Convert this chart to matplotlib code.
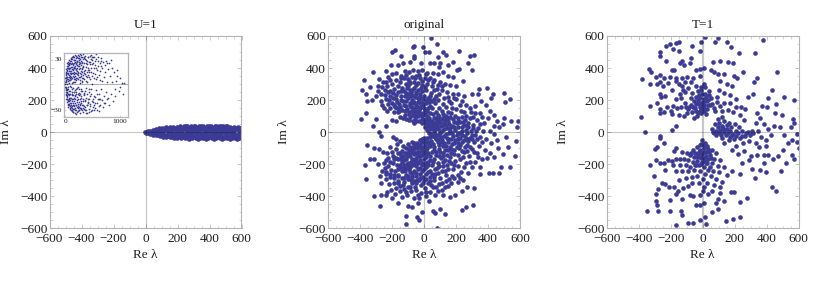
# Eigenvalue scatter plots in the complex plane: U=1, original, T=1
import numpy as np
import matplotlib
matplotlib.use("Agg")
import matplotlib.pyplot as plt

plt.rcParams['font.family'] = ['Liberation Serif', 'DejaVu Serif']

point_color = '#3b3b96'
frame_color = '#b4b4b4'
text_color = '#1c1c1c'

titles = ['U=1', 'original', 'T=1']
major_ticks = [-600, -400, -200, 0, 200, 400, 600]
minor_ticks = [-550, -500, -450, -350, -300, -250, -150, -100, -50, 50, 100, 150, 250, 300, 350, 450, 500, 550]
tick_labels = ['\u2212600', '\u2212400', '\u2212200', '0', '200', '400', '600']

# U=1 main panel, the thin band along the real axis
u1_points = [
    (-5, 0), (5, 3), (5, -3), (15, 6), (15, -7), (28, 10), (30, -11), (30, 0), (45, 15), (47, -16), (50, 4), (52, -5),
    (65, 20), (68, -19), (72, 6), (75, -8), (85, 24), (88, -24), (92, 10), (95, -11), (105, 28), (108, -28), (112, 0),
    (118, 14), (120, -15), (128, 30), (130, -30), (140, 5), (145, 18), (148, -18), (150, 32), (152, -33), (165, -5),
    (170, 20), (172, 35), (175, -34), (178, -20), (190, 5), (195, 34), (198, -36), (205, 18), (208, -18), (218, 36),
    (222, -38), (228, 0), (235, 20), (240, 37), (242, -20), (248, -37), (258, 6), (262, 36), (268, -38), (272, 20),
    (278, -20), (285, 38), (290, -37), (295, 0), (305, 20), (310, 36), (315, -20), (318, -38), (328, 6), (335, 38),
    (340, -37), (345, 20), (350, -20), (358, 37), (362, -38), (368, 0), (378, 20), (382, 36), (386, -20), (392, -38),
    (402, 6), (408, 38), (414, -38), (420, 20), (425, -20), (432, 36), (438, -36), (445, 0), (452, 20), (458, 37),
    (462, -20), (468, -38), (476, 6), (482, 36), (488, -38), (494, 20), (500, -20), (506, 36), (512, -36), (518, 0),
    (525, 20), (530, 35), (535, -20), (540, -38), (548, 6), (554, 35), (560, -36), (566, 20), (572, -20), (578, 34),
    (584, -35), (590, 0), (596, 18), (598, -18), (600, 33), (600, -36),
]
u1_extra = [
    (58, 12), (62, -12), (80, 16), (84, -16), (100, 20), (102, -20), (122, 24), (125, -23), (135, 12), (138, -10), (155, 25),
    (158, -26), (160, 10), (182, 28), (185, -27), (188, 14), (192, -12), (212, 28), (215, -28), (220, 10), (225, -10),
    (245, 29), (250, -29), (252, 12), (255, -9), (275, 30), (280, -30), (282, 10), (288, -12), (300, 29), (308, -28),
    (312, 9), (320, -8), (330, 28), (338, -29), (342, 11), (348, -11), (365, 28), (370, -29), (372, 10), (380, -9),
    (395, 29), (400, -28), (405, 12), (410, -10), (425, 28), (430, -28), (436, 10), (442, -11), (455, 29), (460, -29),
    (465, 10), (472, -9), (485, 27), (490, -28), (495, 9), (502, -10), (515, 28), (520, -28), (528, 10), (532, -9),
    (545, 28), (550, -29), (556, 11), (562, -10), (575, 26), (580, -27), (586, 10), (592, -10), (598, 26), (598, -27),
    (600, 6), (600, -6), (255, 40), (300, 41), (345, 40), (395, 40), (440, 39), (470, 41), (510, 38), (270, -42),
    (330, -41), (380, -40), (430, -42), (475, -41), (530, -42), (570, -41),
]
u1_fill = [
    (70, 15), (76, -15), (96, 17), (110, 22), (114, -22), (134, 24), (142, -26), (162, 29), (168, -29), (200, 26), (203, -26), (232, 28),
    (238, -28), (265, 27), (270, -27), (295, 28), (298, -29), (322, 27), (326, -27), (352, 28), (356, -28), (388, 28), (392, -28),
    (418, 28), (422, -28), (448, 28), (452, -28), (478, 28), (482, -28), (508, 28), (512, -28), (538, 28), (542, -28), (568, 28), (572, -28),
    (210, 2), (265, -3), (320, 2), (385, 3), (430, -2), (490, 1), (540, -3),
]

# inset of the U=1 panel
inset_points = [
    (3, 0), (6, 8), (8, -7), (10, 14), (12, -13), (15, 3), (17, -3), (20, 18), (22, -17), (25, 9), (28, -10), (30, 22),
    (33, -21), (36, 1), (38, 14), (40, -14), (44, 25), (46, -24), (48, 6), (50, -6), (54, 19), (56, -19), (60, 27),
    (62, -27), (65, 11), (68, -11), (72, 23), (74, -23), (78, 2), (80, 29), (84, -29), (86, 16), (90, -16), (94, 7),
    (96, -8), (100, 31), (104, -31), (108, 21), (110, -22), (115, 12), (118, -13), (122, 33), (126, -32), (130, 26),
    (134, -26), (138, 3), (142, 17), (146, -17), (150, 34), (154, -33), (158, 9), (162, -9), (166, 29), (170, -29),
    (175, 22), (180, -22), (185, 14), (188, -14), (192, 34), (196, -35), (200, 5), (205, -5), (210, 27), (215, -27),
    (220, 19), (225, -19), (230, 35), (235, -32), (240, 11), (245, -11), (250, 31), (255, -30), (260, 24), (265, -24),
    (270, 2), (275, 36), (280, -34), (285, 16), (290, -16), (295, 28), (300, -28), (305, 8), (310, -8), (315, 33),
    (320, -33), (325, 21), (330, -20), (338, 36), (345, -26), (350, 13), (356, -13), (362, 30), (368, -31), (375, 4),
    (380, -4), (388, 25), (394, -24), (400, 37), (405, -34), (412, 17), (418, -17), (425, 32), (432, -29), (440, 9),
    (446, -9), (452, 27), (460, -26), (468, 35), (474, -32), (480, 20), (486, -20), (494, 1), (500, 29), (508, -27),
    (515, 14), (522, -14), (530, 33), (538, -30), (545, 23), (552, -22), (560, 6), (568, -7), (575, 30), (582, -30),
    (590, 17), (598, -17), (606, 28), (615, -26), (622, 11), (630, -11), (638, 25), (646, -24), (655, 31), (664, -5),
    (672, 20), (680, -19), (690, 27), (700, -27), (710, 9), (720, -14), (730, 23), (740, -22), (750, 28), (762, 3),
    (775, -17), (788, 18), (800, -25), (815, 25), (830, 10), (845, -12), (860, 20), (880, -20), (900, 15), (920, -5),
    (940, 4), (960, 17), (985, -8), (1010, 8), (1040, 2), (1070, -12), (1090, 2),
]
inset_extra = [
    (9, 4), (14, -9), (18, 11), (21, -4), (24, 15), (27, -15), (31, 6), (34, 17), (37, -18), (41, 9), (43, -9), (47, 20),
    (51, -20), (53, 13), (57, -3), (59, 22), (63, -16), (66, 5), (69, 25), (73, -25), (76, 18), (79, -13), (82, 10),
    (87, 26), (89, -26), (92, -2), (97, 20), (99, -19), (103, 13), (106, -27), (112, 6), (116, 28), (120, -20), (124, 18),
    (128, -6), (132, 30), (136, -30), (140, 10), (144, -24), (148, 24), (152, -13), (156, 3), (160, 19), (164, -20),
    (168, 33), (172, 12), (176, -34), (182, 6), (186, 29), (190, -28), (194, 17), (198, -11), (203, 24), (207, -24),
    (212, 32), (217, -15), (222, 8), (227, 28), (232, -26), (237, 15), (242, -3), (248, 22), (253, -21), (258, 34), (263, -13),
    (268, 9), (273, 25), (278, -28), (283, 30), (288, -8), (293, 12), (298, -22), (303, 20), (308, 4), (318, 26), (323, -28),
    (333, 11), (342, -10), (353, 31), (360, -20), (372, 17), (384, -34), (397, 9), (410, 28), (422, -22), (436, 15), (450, -14),
    (466, 24), (478, -5), (490, 33), (504, -18), (520, 26), (534, -25), (550, 12), (566, 36), (580, -12), (600, 22),
    (618, -32), (634, 16), (650, -17), (668, 28), (684, 4), (706, -22), (724, 15), (746, -9), (770, 26), (795, -16),
    (838, 29), (870, 3), (910, -14), (950, 10), (1000, -3),
]
inset_fill = [
    (5, 3), (7, -3), (11, 7), (13, -6), (16, 12), (19, -11), (23, 5), (26, -7), (29, 16), (32, -13), (35, 9), (39, -5), (42, 19), (45, -19),
    (49, 12), (52, -12), (55, 24), (58, -23), (61, 4), (64, 16), (67, -8), (70, 20), (71, -20), (75, 9), (77, -17), (81, 24), (83, -22),
    (85, 5), (88, 13), (91, -11), (93, 28), (95, -28), (98, 9), (101, -3), (105, 24), (107, -16), (109, 16), (111, 30), (113, -24), (117, 9),
    (119, -9), (121, 21), (123, -28), (125, 2), (127, 14), (129, -18), (131, 26), (133, -11), (135, 7), (137, 33), (139, -33), (141, 23),
    (143, -4), (145, 13), (147, -29), (149, 18), (151, -22), (155, 29), (157, -9), (159, 25), (161, -26), (163, 6), (165, 15), (167, -16),
    (169, 21), (171, -25), (173, 35), (174, -7), (177, 27), (179, -13), (181, 10), (183, -31), (187, 20), (189, 3), (191, -18), (193, 26),
    (195, -24), (197, 13), (199, 31), (201, -30), (204, 8), (206, 18), (208, -9), (211, 23), (213, -21), (216, 12), (218, -33), (221, 28),
    (224, -4), (226, 16), (229, -17), (231, 31), (233, -28), (236, 6), (239, 22), (241, -23), (244, 14), (247, 27), (249, -10), (251, -31),
    (254, 18), (256, 9), (259, -6), (261, 29), (264, -27), (266, 20), (269, -18), (271, 13), (274, -23), (276, 25), (279, 5), (281, -12),
    (284, 35), (286, -29), (289, 23), (291, -20), (294, 10), (296, -14), (299, 32), (301, -5), (304, 15), (306, -25), (309, 27), (311, -31),
    (314, 18), (317, 3), (321, -18), (326, 30), (329, 8), (332, -24), (336, 22), (339, -12), (343, 32), (346, 16), (349, -29), (352, 6),
    (355, 25), (358, -19), (361, 12), (365, -8), (369, 34), (373, -27), (376, 21), (379, 10), (383, -16), (387, 29), (391, -30), (395, 15),
    (399, -11), (403, 24), (407, 3), (411, -25), (415, 33), (420, 11), (424, -21), (428, 20), (431, -6), (435, 27), (439, -33), (443, 17),
    (448, -18), (453, 34), (457, 6), (463, -23), (470, 15), (476, 30), (483, -11), (489, 24), (497, -30), (503, 10), (510, 33), (517, -21),
    (525, 20), (533, 7), (542, -15), (549, 28), (558, -28), (570, 19), (586, -22), (595, 9), (610, 33), (626, -18), (642, 5), (660, 22),
]

# original panel
orig_points = [
    (44, 590), (83, 548), (-4, 531), (-67, 531), (-64, 538), (-181, 510), (-202, 500), (-146, 477), (-62, 477), (-60, 465),
    (8, 500), (29, 500), (117, 500), (217, 504), (287, 477), (312, 479), (135, 480), (90, 470), (275, 430), (298, 390),
    (242, 321), (220, 395), (205, 385), (150, 420), (180, 440), (100, 430), (60, 430), (35, 430), (-20, 430), (-85, 440),
    (-130, 430), (-165, 420), (-205, 420), (-240, 380), (-320, 375), (-376, 325), (-390, 262), (-365, 235), (-358, 197),
    (-335, 280), (-328, 200), (-360, 122), (-394, 80), (-300, 85), (-320, 40), (-240, 40), (-200, 75), (-175, 70),
    (-281, 4), (-269, -23), (-354, -79), (-337, -165), (-371, -202), (-362, -292), (-312, -400), (-275, -458),
    (-115, -525), (-115, -575), (-46, -527), (-29, -548), (-12, -496), (58, -490), (70, -506), (79, -600), (235, -485),
    (262, -469), (308, -452), (590, 71), (583, 35), (542, 67), (500, 87), (492, 52), (467, 35), (537, 208), (508, 187),
    (500, 244), (417, 212), (392, 275), (433, 237), (346, 269), (575, -54), (569, -148), (537, -215), (479, -215),
    (492, -137), (408, -258), (433, -258), (469, -252), (350, -260), (312, -350), (267, -344), (130, -510), (100, -480),
    (-75, -470), (-100, -460), (-165, -440), (-200, -410), (-240, -395), (-270, -390), (-40, -440), (30, -430), (120, -395),
    (160, -405), (195, -395), (240, -370),
    # upper lobe
    (-280, 330), (-255, 310), (-290, 290), (-260, 280), (-300, 225), (-270, 235), (-245, 260), (-225, 345), (-200, 360),
    (-175, 370), (-145, 350), (-120, 380), (-95, 375), (-70, 390), (-40, 380), (-10, 385), (20, 370), (55, 370), (85, 360),
    (120, 375), (150, 350), (180, 345), (95, 405), (-270, 195), (-240, 205), (-215, 225), (-195, 245), (-230, 285),
    (-200, 300), (-175, 325), (-150, 315), (-125, 340), (-100, 330), (-75, 345), (-50, 350), (-25, 335), (5, 340), (35, 335),
    (65, 325), (100, 315), (130, 300), (165, 295), (200, 285), (-260, 170), (-225, 175), (-200, 185), (-175, 205),
    (-160, 250), (-135, 275), (-110, 300), (-85, 305), (-60, 315), (-35, 305), (-10, 295), (20, 300), (50, 285), (80, 270),
    (110, 260), (145, 250), (180, 240), (-210, 150), (-180, 155), (-155, 175), (-130, 195), (-145, 225), (-115, 245),
    (-90, 265), (-65, 275), (-40, 265), (-15, 255), (15, 260), (45, 245), (75, 225), (-165, 125), (-135, 140), (-110, 165),
    (-85, 185), (-100, 215), (-75, 230), (-50, 235), (-25, 220), (0, 225), (25, 215), (50, 195), (-120, 110), (-95, 125),
    (-70, 150), (-60, 190), (-35, 190), (-10, 185), (15, 180), (35, 165), (-85, 95), (-70, 110), (-50, 130), (-25, 150),
    (0, 150), (20, 135), (-55, 85), (-40, 100), (-20, 115), (5, 115), (-30, 70), (-15, 85), (10, 85), (-10, 55), (5, 60),
    (-45, 160), (-60, 120), (-80, 155), (-105, 145), (-125, 170), (-20, 180), (-5, 120), (-75, 200), (-40, 215),
    # right lobe
    (10, 30), (25, 50), (40, 70), (60, 90), (85, 110), (110, 135), (140, 155), (170, 180), (200, 205), (235, 195), (265, 170),
    (300, 235), (335, 235), (355, 195), (385, 170), (410, 130), (440, 105), (455, 70), (435, 40), (400, 90), (375, 60),
    (350, 120), (320, 165), (295, 125), (265, 100), (230, 135), (200, 145), (170, 120), (140, 100), (115, 80), (90, 60),
    (65, 40), (40, 20), (60, 10), (90, 25), (120, 45), (150, 70), (180, 85), (215, 90), (245, 65), (275, 60), (305, 45),
    (340, 25), (370, 10), (410, 5), (440, -10), (30, -5), (55, -25), (85, -15), (115, 5), (145, 25), (175, 40), (205, 55),
    (235, 30), (265, 15), (295, 5), (320, -15), (350, -30), (390, -45), (420, -70), (455, -50), (510, -30), (525, -90),
    (20, -35), (45, -55), (75, -45), (105, -30), (135, -10), (165, 5), (195, 15), (225, -5), (255, -25), (285, -35), (315, -60),
    (345, -85), (380, -110), (410, -130), (440, -155), (465, -100), (395, -160), (360, -170), (330, -130), (300, -105),
    (270, -80), (240, -60), (210, -40), (180, -25), (150, -40), (125, -65), (95, -80), (65, -90), (35, -85), (190, -70),
    (160, -90), (130, -110), (100, -125), (220, -100), (250, -125), (280, -150), (320, -185), (350, -215), (300, -220),
    (260, -195), (225, -165), (190, -135), (160, -155), (130, -175),
    # lower lobe
    (5, -60), (-10, -60), (-25, -50), (-45, -65), (-65, -80), (-90, -90), (-115, -100), (-140, -120), (-165, -130),
    (-195, -150), (-225, -160), (-250, -190), (-290, -200), (-310, -165), (-280, -105), (-310, -100), (-255, -125),
    (-210, -95), (-170, -75), (-175, -40), (-150, -55), (-195, -30), (-160, -170), (-130, -150), (-105, -130), (-80, -115),
    (-55, -100), (-30, -90), (-5, -90), (20, -100), (50, -125), (75, -145), (105, -160), (-225, -210), (-195, -195),
    (-170, -205), (-140, -185), (-115, -170), (-90, -150), (-65, -135), (-40, -125), (-15, -120), (10, -135), (35, -150),
    (60, -170), (90, -190), (120, -210), (150, -230), (-265, -240), (-235, -250), (-205, -235), (-180, -245), (-150, -225),
    (-125, -205), (-100, -190), (-75, -170), (-50, -160), (-25, -150), (0, -170), (25, -185), (50, -205), (80, -225),
    (110, -245), (140, -270), (175, -275), (210, -265), (-240, -290), (-210, -280), (-185, -285), (-160, -265), (-135, -245),
    (-110, -225), (-85, -215), (-60, -200), (-35, -190), (-10, -205), (15, -220), (40, -240), (70, -260), (100, -285),
    (135, -305), (170, -320), (210, -310), (245, -300), (-270, -320), (-220, -325), (-190, -320), (-165, -305), (-140, -285),
    (-115, -265), (-90, -250), (-65, -240), (-40, -230), (-15, -245), (10, -260), (35, -280), (65, -300), (95, -325),
    (130, -345), (-205, -360), (-175, -350), (-150, -335), (-125, -310), (-100, -295), (-75, -280), (-50, -275), (-25, -285),
    (0, -300), (25, -320), (55, -345), (90, -365), (-230, -375), (-180, -385), (-150, -370), (-125, -355), (-100, -340),
    (-75, -320), (-50, -315), (-20, -330), (5, -350), (35, -375), (70, -395), (-135, -405), (-105, -395), (-80, -370),
    (-50, -360), (-20, -380), (10, -400), (-60, -410), (-30, -410),
]
orig_core = [
    (-97, 238), (-82, 252), (-118, 223), (-143, 203), (-168, 188), (-188, 172), (-152, 158), (-121, 133), (-92, 112), (-76, 134),
    (-58, 102), (-47, 72), (-37, 118), (-63, 143), (-88, 171), (-113, 192), (-71, 184), (-53, 172), (-29, 133), (-12, 102),
    (-3, 73), (-18, 168), (-33, 202), (-58, 218), (-83, 228), (-108, 276), (-72, 262), (-48, 251), (-27, 241), (-6, 207),
    (-4, 172), (9, 138), (28, 152), (31, 186), (12, 199), (38, 228), (62, 208), (-17, 278), (7, 281), (-53, 296), (-97, 288),
    (-128, 258), (-172, 232), (-188, 268), (-212, 258), (-218, 198), (8, 32), (18, 12), (33, 38), (48, 52), (72, 64), (52, 28),
    (79, 38), (103, 62), (128, 58), (104, 38), (72, 18), (97, 7), (123, 22), (138, 42), (158, 52), (186, 62), (162, 28), (188, 34),
    (212, 32), (247, 42), (278, 32), (258, 78), (228, 62), (196, 102), (152, 88), (127, 92), (42, -12), (66, -9), (98, -8), (122, -22),
    (154, -8), (178, -4), (206, -16), (238, -18), (268, -8), (302, -18), (38, -32), (68, -31), (88, -42), (112, -52), (142, -34),
    (166, -42), (196, -52), (226, -38), (252, -48), (276, -58), (228, -78), (204, -92), (172, -72), (148, -64), (118, -88), (86, -62),
    (58, -72), (28, -62), (12, -48), (2, -38), (-12, -44), (-22, -72), (-38, -78), (-52, -82), (-72, -98), (-92, -112), (-118, -128),
    (-142, -148), (-172, -162), (-46, -102), (-68, -118), (-88, -132), (-108, -148), (-128, -172), (-148, -202), (-108, -198), (-82, -188),
    (-62, -172), (-38, -148), (-18, -102), (8, -82), (12, -112), (28, -128), (-12, -142), (12, -158), (38, -172), (-28, -172), (-48, -182),
    (-72, -208), (-92, -228), (-118, -242), (-48, -212), (-22, -222), (2, -196), (28, -208), (58, -188), (72, -122), (92, -148), (-2, -232),
    (22, -248), (48, -262), (-52, -252), (-78, -262), (-102, -272), (-128, -288), (-28, -262), (-8, -278), (12, -292), (38, -302),
    (-82, -298), (-62, -302), (-42, -298), (68, -232), (92, -212), (118, -186), (142, -208), (168, -192), (142, -142), (118, -132), (168, -128),
    (196, -178), (212, -142), (246, -152), (268, -118), (288, -92), (212, -212), (182, -232), (232, -246), (272, -252),
]
orig_fill = [
    (18, 68), (34, 88), (52, 72), (74, 88), (96, 92), (58, 112), (38, 122), (18, 98), (72, 128), (95, 150), (50, 150), (118, 112),
    (148, 128), (175, 150), (222, 168), (252, 128), (288, 148), (308, 92), (330, 78), (352, 48), (288, 88), (318, 118), (362, 92),
    (60, 265), (95, 240), (125, 215), (155, 195), (185, 210), (215, 238), (248, 225), (120, 175), (90, 200), (68, 185), (38, 200), (148, 222),
    (-245, 230), (-225, 250), (-285, 255), (-240, 315), (-215, 325), (-165, 285), (-145, 255), (-170, 150), (-195, 210), (-250, 148),
    (-230, 130), (-190, 125), (-150, 92), (-130, 90), (-112, 82), (-95, 75), (-70, 70), (-155, 130), (-62, 60),
    (-95, 320), (-55, 335), (-15, 320), (25, 325), (55, 310), (85, 295), (115, 285), (-30, 355), (10, 365), (-110, 355), (-145, 335),
    (65, 50), (85, 75), (130, 75), (160, 95), (210, 72), (240, 92), (270, 40), (305, 25), (325, 5), (210, -5), (240, 5), (270, -45),
    (300, -40), (330, -40), (360, -60), (190, -110), (235, -120), (120, -150), (150, -110), (95, -105), (60, -110), (30, -75),
    (105, -60), (135, -85), (168, -108), (212, -70), (255, -95), (310, -125), (340, -155), (290, -185), (250, -215), (190, -205),
    (155, -180), (130, -240), (90, -255), (60, -280), (155, -295), (190, -285), (225, -285), (115, -320), (150, -335), (-150, -130),
    (-175, -105), (-130, -85), (-100, -72), (-75, -60), (-60, -65), (-200, -125), (-230, -130), (-240, -175), (-210, -185),
    (-185, -170), (-245, -225), (-215, -260), (-190, -265), (-165, -230), (-145, -170), (-165, -275), (-240, -260), (-275, -275),
    (-130, -225), (-100, -210), (-50, -130), (-30, -125), (0, -125), (-10, -190), (15, -190), (-30, -300), (-5, -320), (-130, -330),
    (-160, -320), (-55, -345), (-85, -345), (-110, -375), (-40, -395), (15, -375), (45, -330), (75, -345), (110, -360),
]

# T=1 panel
t1_points = [
    (12, 594), (98, 585), (75, 560), (152, 562), (177, 530), (225, 495), (325, 495), (375, 572), (-10, 565), (-65, 535),
    (-15, 505), (-265, 500), (-265, 473), (-229, 540), (-204, 552), (-167, 554), (-146, 560), (-183, 519), (-146, 508),
    (-229, 444), (-335, 394), (-325, 373), (-381, 331), (-331, 298), (-331, 165), (-387, 94), (-358, 4), (-194, 15),
    (-167, 40), (-265, -23), (-270, -38), (-285, -90), (-240, -65), (-300, -105), (-331, -205), (-295, -175), (-302, -275),
    (-295, -385), (-292, -430), (-285, -455), (-350, -490), (-280, -490), (-205, -495), (-135, -490), (-130, -515),
    (-165, -580), (-90, -565), (-60, -565), (-15, -550), (20, -575), (15, -530), (145, -555), (190, -545), (235, -530),
    (235, -435), (275, -410), (60, -500), (95, -480), (435, -340), (395, -250), (325, -285), (570, -165), (560, -145),
    (600, -100), (490, -240), (520, -195), (460, -370), (465, 375), (430, 265), (340, 340), (320, 310), (250, 375), (505, 220),
    (455, 175), (570, 200), (565, 80), (570, 60), (550, 30), (590, -10), (560, -50), (590, -60), (510, -15), (480, 30),
    (495, 105), (450, 120), (405, 210), (400, 155), (370, 165), (340, 120), (280, 220), (315, 235), (265, 145),
    # upper left lobe
    (-290, 345), (-270, 355), (-240, 340), (-205, 345), (-170, 340), (-130, 340), (-100, 345), (-60, 340), (-195, 390), (-180, 385),
    (-145, 430), (-130, 445), (-120, 420), (-80, 430), (-75, 465), (-40, 390), (-15, 395), (10, 400), (-20, 350), (5, 300),
    (-285, 300), (-265, 310), (-250, 290), (-220, 305), (-170, 320), (-150, 300), (-110, 315), (-75, 310), (-45, 290), (-10, 280),
    (-270, 240), (-260, 220), (-235, 225), (-195, 260), (-130, 290), (-125, 265), (-110, 250), (-90, 275), (-65, 245), (-30, 255),
    (-285, 185), (-265, 145), (-225, 155), (-185, 165), (-165, 205), (-140, 235), (-135, 215), (-110, 185), (-75, 215), (-40, 220),
    (-270, 120), (-245, 125), (-200, 130), (-160, 150), (-135, 155), (-105, 155), (-85, 160), (-55, 195), (-30, 200), (-10, 185),
    (-190, 115), (-150, 105), (-120, 100), (-100, 120), (-70, 125), (-50, 150), (-20, 160), (10, 170), (30, 200), (50, 215),
    (-55, 90), (-35, 100), (-10, 120), (5, 135), (25, 145), (45, 170), (60, 175), (15, 240), (-5, 235), (15, 280), (40, 255),
    (-20, 135), (-5, 160), (20, 115), (-25, 230), (-45, 175), (-75, 170), (-15, 210), (5, 205),
    # upper right
    (50, 385), (70, 375), (95, 365), (130, 365), (105, 445), (65, 440), (160, 440), (190, 430), (195, 350), (215, 340), (110, 320),
    (150, 300), (180, 285), (100, 260), (90, 220), (130, 245), (170, 230), (210, 205), (75, 135), (110, 165), (135, 180),
    (170, 180), (210, 160), (240, 160), (120, 130), (160, 140), (190, 125), (235, 110), (255, 75),
    # right lobe
    (60, 20), (85, 10), (95, 30), (85, -15), (110, 15), (120, 40), (105, -5), (130, 0), (150, 20), (170, 10), (145, -20),
    (120, -35), (100, 55), (135, 70), (165, 60), (200, 50), (225, 30), (190, -10), (210, 10), (245, 5), (280, 0), (305, 5),
    (295, -20), (315, -5), (265, -25), (230, -35), (195, -45), (165, -50), (135, -65), (205, -85), (250, -65), (290, -55),
    (330, 60), (355, 90), (385, 50), (410, 20), (345, 10), (365, -30), (395, -50), (425, -20), (445, 40), (335, -65), (350, -90),
    (395, -85), (410, -140), (380, -145), (340, -140), (300, -150), (260, -120), (220, -135), (180, -110), (245, -190), (290, -175),
    (310, -230), (360, -235), (380, -195), (440, -170), (470, -150), (500, -110), (535, -70), (230, -260), (185, -240),
    # lower left lobe
    (-5, -50), (15, -65), (25, -85), (-20, -80), (-35, -95), (-15, -110), (5, -100), (35, -105), (55, -110), (80, -130), (-60, -110),
    (-50, -130), (-30, -135), (-5, -135), (20, -125), (45, -140), (70, -165), (105, -175), (-165, -100), (-180, -115), (-130, -125),
    (-100, -130), (-80, -145), (-55, -155), (-20, -155), (5, -160), (35, -170), (60, -190), (95, -210), (130, -220), (-215, -175),
    (-195, -180), (-165, -170), (-140, -165), (-115, -170), (-90, -175), (-60, -185), (-35, -180), (-5, -185), (20, -195), (45, -215),
    (-270, -195), (-245, -190), (-185, -205), (-145, -205), (-105, -205), (-80, -215), (-50, -205), (-25, -205), (5, -215), (30, -235),
    (65, -245), (100, -250), (150, -265), (-235, -235), (-170, -240), (-130, -245), (-90, -240), (-55, -235), (-20, -240), (15, -260),
    (50, -275), (85, -290), (120, -310), (-255, -320), (-235, -325), (-210, -345), (-180, -345), (-150, -300), (-105, -285), (-70, -280),
    (-35, -275), (0, -295), (25, -320), (70, -330), (105, -345), (-280, -355), (-205, -425), (-165, -385), (-155, -370), (-125, -350),
    (-95, -335), (-65, -320), (-25, -320), (10, -340), (55, -365), (110, -380), (175, -375), (195, -375), (-130, -420), (-80, -390),
    (-60, -400), (-15, -395), (0, -365), (35, -385), (95, -420), (-40, -455), (-20, -455), (5, -440), (80, -445), (130, -430),
]
t1_core = [
    (-18, 172), (2, 188), (-32, 182), (18, 192), (-12, 148), (8, 152), (32, 172), (-42, 132), (-28, 118), (-62, 158), (-92, 142), (22, 218),
    (42, 232), (-8, 262), (72, 152), (92, 188), (118, 96), (96, 82), (78, 48), (62, 2), (72, -8), (92, -4), (112, -18), (132, 12), (128, 28),
    (152, 42), (178, 32), (182, -18), (156, -4), (172, -32), (208, -22), (222, -8), (248, -22), (272, -8), (-8, -72), (8, -82), (-24, -122),
    (8, -122), (-8, -162), (18, -148), (-12, -198), (12, -178), (-38, -158), (38, -122), (-72, -132), (52, -162), (-42, -202), (28, -192),
]

left_px = [49.5, 328, 606.7]
point_sets = [u1_points + u1_extra + u1_fill, orig_points + orig_core + orig_fill, t1_points + t1_core]
zero_widths = [0.9, 0.9, 1.6]
ylabel_x = [6, 284, 563]

fig = plt.figure(figsize=(8.17, 2.81), dpi=100)

for i in range(3):
    ax = fig.add_axes([left_px[i] / 817, (281 - 228.3) / 281, 192 / 817, 192.3 / 281])
    pts = np.array(point_sets[i])
    ax.scatter(pts[:, 0], pts[:, 1], s=11, color=point_color, linewidths=0, zorder=2, clip_on=True)
    ax.axhline(0, color='black', alpha=0.22, lw=0.8, zorder=3)
    ax.axvline(0, color='black', alpha=0.22, lw=zero_widths[i], zorder=3)
    ax.set_xlim(-600, 600)
    ax.set_ylim(-600, 600)
    ax.set_xticks(major_ticks)
    ax.set_yticks(major_ticks)
    ax.set_xticks(minor_ticks, minor=True)
    ax.set_yticks(minor_ticks, minor=True)
    ax.set_xticklabels(tick_labels)
    ax.set_yticklabels(tick_labels)
    ax.tick_params(which='major', direction='in', length=3.2, width=0.5, color=frame_color, top=True, right=True,
                   labelsize=9.5, labelcolor=text_color, pad=1.5)
    ax.tick_params(axis='x', which='major', pad=3.5)
    ax.tick_params(which='minor', direction='in', length=1.8, width=0.4, color=frame_color, top=True, right=True)
    for side in ax.spines.values():
        side.set_color(frame_color)
        side.set_linewidth(0.8)
    ax.set_title(titles[i], fontsize=9.5, color=text_color, pad=6)
    ax.set_xlabel('Re \u03bb', fontsize=9.5, color=text_color, labelpad=3)
    fig.text(ylabel_x[i] / 817, (281 - 132) / 281, 'Im \u03bb', rotation=90, fontsize=9.5, color=text_color,
             ha='center', va='center')

# inset in the first panel
inset = fig.add_axes([64 / 817, (281 - 116.7) / 281, 63.7 / 817, 64 / 281])
in_pts = np.array(inset_points + inset_extra + inset_fill)
inset.scatter(in_pts[:, 0], in_pts[:, 1], s=1.5, color=point_color, linewidths=0, zorder=2)
inset.axhline(0, color='black', alpha=0.45, lw=0.5, zorder=3)
inset.set_xlim(-20, 1150)
inset.set_ylim(-38.5, 37.7)
inset.set_xticks([0, 1000])
inset.set_yticks([-30, 30])
inset.set_yticklabels(['\u221230', '30'])
inset.tick_params(direction='in', length=1.5, width=0.4, color=frame_color, labelsize=5.3, labelcolor=text_color, pad=1.5)
for side in inset.spines.values():
    side.set_color(frame_color)
    side.set_linewidth(0.9)

plt.savefig('out.png', dpi=100)
